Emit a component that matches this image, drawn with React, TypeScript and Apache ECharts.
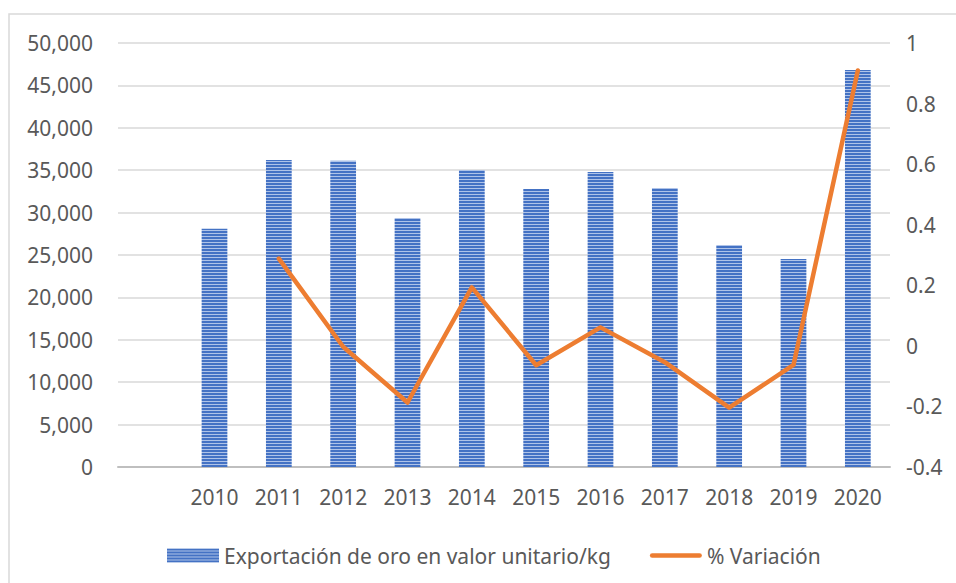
import React, { useEffect, useRef } from "react";
import * as echarts from "echarts";

const categories = ["", "2010", "2011", "2012", "2013", "2014", "2015", "2016", "2017", "2018", "2019", "2020"];
const exportValues = [null, 28100, 36200, 36100, 29360, 35030, 32780, 34790, 32900, 26180, 24530, 46820];
const variation = [null, null, 0.288, -0.003, -0.187, 0.193, -0.064, 0.061, -0.054, -0.204, -0.063, 0.909];
const leftTicks = { min: 0, max: 50000, interval: 5000 };
const rightTicks = { min: -0.4, max: 1, interval: 0.2 };
const barName = "Exportación de oro en valor unitario/kg";
const lineName = "% Variación";

const stripeSvg =
  '<svg xmlns="http://www.w3.org/2000/svg" width="4" height="3"><rect x="0" y="0" width="4" height="2" fill="#4472C4"/><rect x="0" y="2" width="4" height="1" fill="#AFC3E8"/></svg>';
const stripeUrl = "data:image/svg+xml;charset=utf-8," + encodeURIComponent(stripeSvg);

export default function App() {
  const ref = useRef<HTMLDivElement>(null);
  useEffect(() => {
    document.body.style.margin = "0";
    const chart = echarts.init(ref.current!, null, { renderer: "svg" });
    const font = "'Noto Sans', sans-serif";
    const fs = 21;
    const pattern: any = { image: stripeUrl, repeat: "repeat", imageWidth: 4, imageHeight: 3 };
    chart.setOption({
      animation: false,
      backgroundColor: "#fff",
      textStyle: { fontFamily: font },
      graphic: [
        {
          type: "rect",
          shape: { x: 9, y: 14, width: 1200, height: 1200 },
          style: { fill: "none", stroke: "#D9D9D9", lineWidth: 1.5 },
          silent: true,
          z: -1,
        },
      ],
      grid: { left: 118, right: 66, top: 43, bottom: 116 },
      legend: {
        left: 162,
        top: 540,
        itemWidth: 52,
        itemHeight: 14,
        itemGap: 39,
        textStyle: { color: "#595959", fontSize: fs, fontFamily: font },
        data: [
          { name: barName, icon: "rect" },
          {
            name: lineName,
            icon: "path://M2.5,0 L53.5,0 A2.5,2.5 0 0 1 53.5,5 L2.5,5 A2.5,2.5 0 0 1 2.5,0 Z",
          },
        ],
      },
      xAxis: {
        type: "category",
        data: categories,
        axisLine: { lineStyle: { color: "#BFBFBF", width: 2 } },
        axisTick: { show: false },
        axisLabel: { color: "#595959", fontSize: fs, margin: 19, fontFamily: font },
      },
      yAxis: [
        {
          type: "value",
          ...leftTicks,
          axisLine: { show: false },
          axisTick: { show: false },
          splitLine: { lineStyle: { color: "#D9D9D9", width: 1.5 } },
          axisLabel: {
            color: "#595959",
            fontSize: fs,
            margin: 25,
            fontFamily: font,
            formatter: (v: number) => v.toLocaleString("en-US"),
          },
        },
        {
          type: "value",
          ...rightTicks,
          axisLine: { show: false },
          axisTick: { show: false },
          splitLine: { show: false },
          axisLabel: {
            color: "#595959",
            fontSize: fs,
            margin: 16,
            fontFamily: font,
            formatter: (v: number) => String(Math.round(v * 10) / 10),
          },
        },
      ],
      series: [
        {
          name: barName,
          type: "bar",
          data: exportValues,
          barWidth: "40%",
          itemStyle: { color: pattern },
        },
        {
          name: lineName,
          type: "line",
          yAxisIndex: 1,
          data: variation,
          symbol: "none",
          lineStyle: { color: "#ED7D31", width: 4.5, cap: "round", join: "round" },
          itemStyle: { color: "#ED7D31" },
        },
      ],
    });
    return () => chart.dispose();
  }, []);
  return <div ref={ref} style={{ width: 956, height: 583 }} />;
}
